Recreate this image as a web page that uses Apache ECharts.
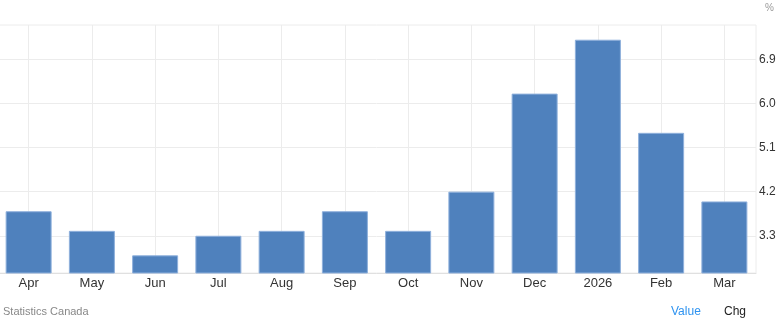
<!DOCTYPE html>
<html>
<head>
<meta charset="utf-8">
<script src="https://cdn.jsdelivr.net/npm/echarts@6/dist/echarts.min.js"></script>
<style>
html,body{margin:0;padding:0;background:#fff;overflow:hidden;}
#c{width:782px;height:318px;margin-left:-3px;}
</style>
</head>
<body>
<div id="c"></div>
<script>
const categories = ['Apr','May','Jun','Jul','Aug','Sep','Oct','Nov','Dec','2026','Feb','Mar'];
const values = [3.8, 3.4, 2.9, 3.3, 3.4, 3.8, 3.4, 4.2, 6.2, 7.3, 5.4, 4.0];
const yTicks = [3.3, 4.2, 5.1, 6.0, 6.9];

const chart = echarts.init(document.getElementById('c'), null, {renderer:'canvas'});
const gridColor = '#ececec';
const font = 'Liberation Sans, Arial, sans-serif';
chart.setOption({
  animation: false,
  grid: {left: 0, right: 23, top: 25, bottom: 45, containLabel: false, show: true, borderColor: gridColor, borderWidth: 1},
  xAxis: {
    type: 'category',
    data: categories,
    boundaryGap: true,
    axisLine: {show: true, lineStyle: {color: '#e0e0e0'}},
    axisTick: {show: false},
    splitLine: {show: false},
    axisLabel: {color: '#333', fontSize: 13, fontFamily: font, margin: 4}
  },
  yAxis: {
    type: 'value',
    position: 'right',
    min: 2.54,
    max: 7.6,
    axisLine: {show: false},
    axisTick: {show: false},
    splitLine: {show: false},
    axisLabel: {
      customValues: yTicks,
      color: '#333', fontSize: 12, fontFamily: font, margin: 3,
      formatter: v => v.toFixed(1)
    }
  },
  graphic: [
    {type:'text', left: 768, top: 3, style:{text:'%', fill:'#999', fontSize:10, fontFamily:font}},
    {type:'text', left: 6, top: 306, style:{text:'Statistics Canada', fill:'#888', fontSize:11, fontFamily:font}},
    {type:'text', left: 674, top: 306, style:{text:'Value', fill:'#2e93f0', fontSize:12, fontFamily:font}},
    {type:'text', left: 727, top: 306, style:{text:'Chg', fill:'#222', fontSize:12, fontFamily:font}}
  ],
  series: [
    {
      type: 'bar',
      data: values,
      barWidth: 46,
      itemStyle: {color: '#4f81bd', borderColor: '#8fb0dc', borderWidth: 1},
      z: 3,
      markLine: {
        silent: true,
        symbol: ['none','none'],
        label: {show: false},
        lineStyle: {color: gridColor, type: 'solid', width: 1},
        z: 1,
        data: yTicks.map(v => ({yAxis: v})).concat(categories.map(c => ({xAxis: c})))
      }
    }
  ]
});
</script>
</body>
</html>
